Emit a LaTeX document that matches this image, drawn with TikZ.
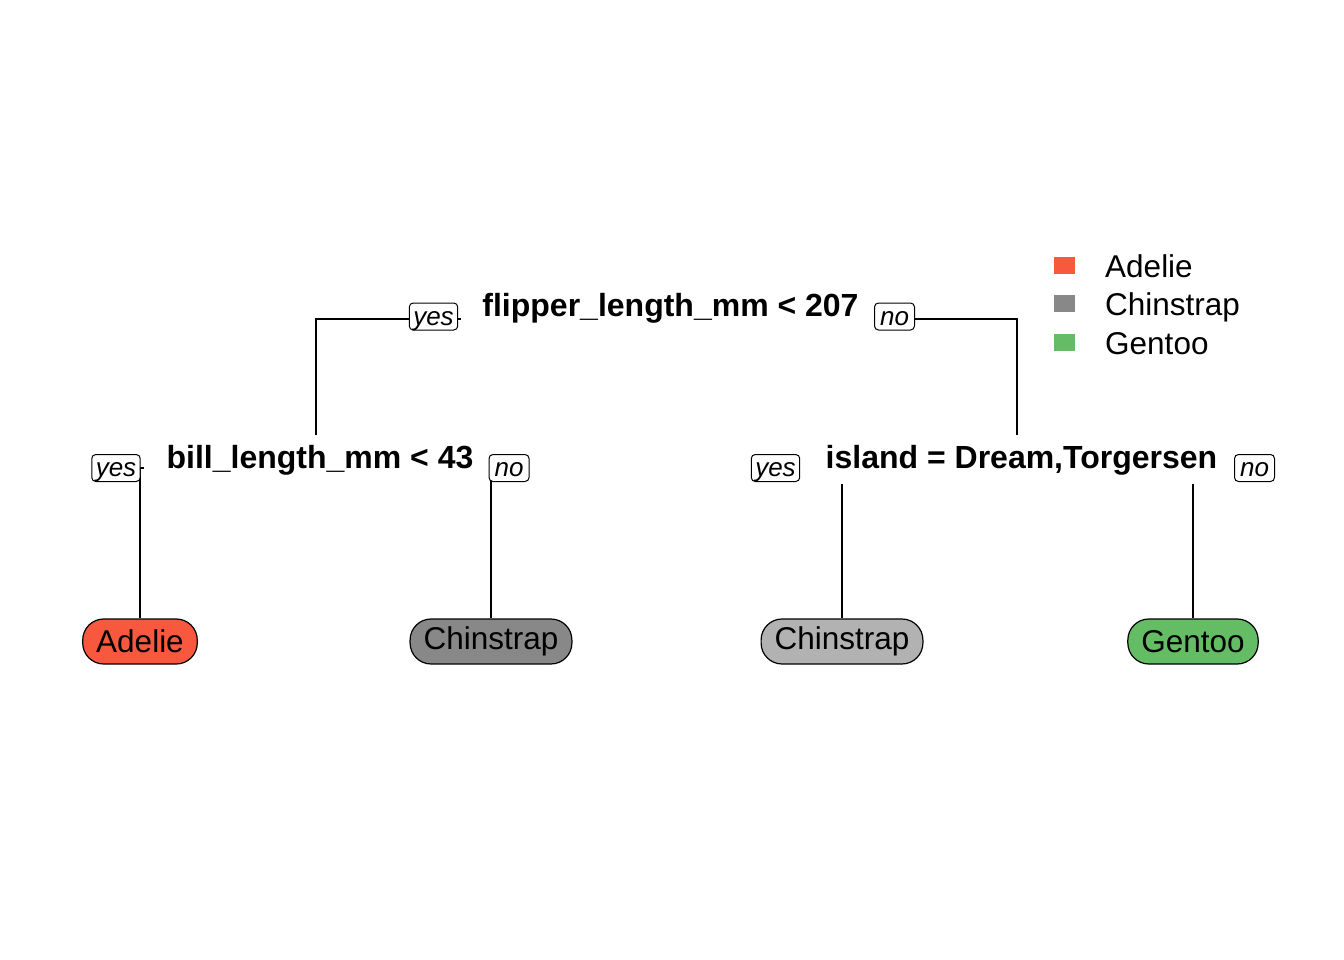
\documentclass[tikz,border=0pt]{standalone}
\usepackage{fontspec}
\setmainfont{Liberation Sans}
\definecolor{adelie}{RGB}{247,88,62}
\definecolor{chindark}{RGB}{136,136,136}
\definecolor{chinlight}{RGB}{178,178,178}
\definecolor{gentoo}{RGB}{100,189,100}
\definecolor{leggreen}{RGB}{102,187,102}
\begin{document}
\begin{tikzpicture}[x=1pt,y=-1pt,
  splitlabel/.style={font=\fontsize{32}{36}\selectfont\bfseries, anchor=base, inner sep=0pt},
  yn/.style={draw, fill=white, rounded corners=4pt, font=\fontsize{26}{30}\selectfont\itshape,
    inner xsep=4pt, inner ysep=0pt, text height=20pt, text depth=3pt,
    minimum height=27pt, minimum width=40pt, line width=1pt},
  leaf/.style={draw, rounded corners=21pt, minimum height=45pt, inner xsep=13.5pt,
    font=\fontsize{31.5}{36}\selectfont, line width=1.2pt},
  edge/.style={line width=1.2pt},
  legsq/.style={minimum width=21pt, minimum height=17pt, inner sep=0pt},
  legtxt/.style={font=\fontsize{31.5}{36}\selectfont, anchor=base west, inner sep=0pt}]
\useasboundingbox (0,0) rectangle (1344,960);

% leaves
\node[leaf, fill=adelie]    (adelie) at (140,641.5)  {Adelie};
\node[leaf, fill=chindark]  (chin1)  at (491,641.5)  {Chinstrap};
\node[leaf, fill=chinlight] (chin2)  at (842,641.5)  {Chinstrap};
\node[leaf, fill=gentoo]    (gent)   at (1193,641.5) {Gentoo};

% connector coordinates
\coordinate (ltop) at (316,435);
\coordinate (rtop) at (1017,435);
\coordinate (ryesend) at (461,319);
\coordinate (rnoend) at (880,319);
\coordinate (lyesend) at (144,468);
\coordinate (lnoend) at (491,468);
\coordinate (rsyes) at (842,484);
\coordinate (rsno) at (1193,484);

% connectors
\draw[edge] (ltop) |- (ryesend);
\draw[edge] (rnoend) -| (rtop);
\draw[edge] (lyesend) -| (adelie.north);
\draw[edge] (lnoend) -- (chin1.north);
\draw[edge] (rsyes) -- (chin2.north);
\draw[edge] (rsno) -- (gent.north);

% split labels
\node[splitlabel] (root) at (670.5,316) {flipper\_length\_mm < 207};
\node[splitlabel] (lsplit) at (320,468) {bill\_length\_mm < 43};
\node[splitlabel] (rsplit) at (1021.5,468) {island = Dream,Torgersen};

% yes / no boxes
\node[yn] (rootyes) at (433.5,316.5) {yes};
\node[yn] (rootno)  at (894.5,316.5) {no};
\node[yn] (lyes)    at (116,468) {yes};
\node[yn] (lno)     at (509,468) {no};
\node[yn] (ryes)    at (775.5,468) {yes};
\node[yn] (rno)     at (1254.5,468) {no};

% legend
\node[legsq, fill=adelie]   (sq1) at (1064.5,265.5) {};
\node[legsq, fill=chindark] (sq2) at (1064.5,303.5) {};
\node[legsq, fill=leggreen] (sq3) at (1064.5,342) {};
\node[legtxt] (lt1) at (1105,277) {Adelie};
\node[legtxt] (lt2) at (1105,315) {Chinstrap};
\node[legtxt] (lt3) at (1105,354) {Gentoo};
\end{tikzpicture}
\end{document}
